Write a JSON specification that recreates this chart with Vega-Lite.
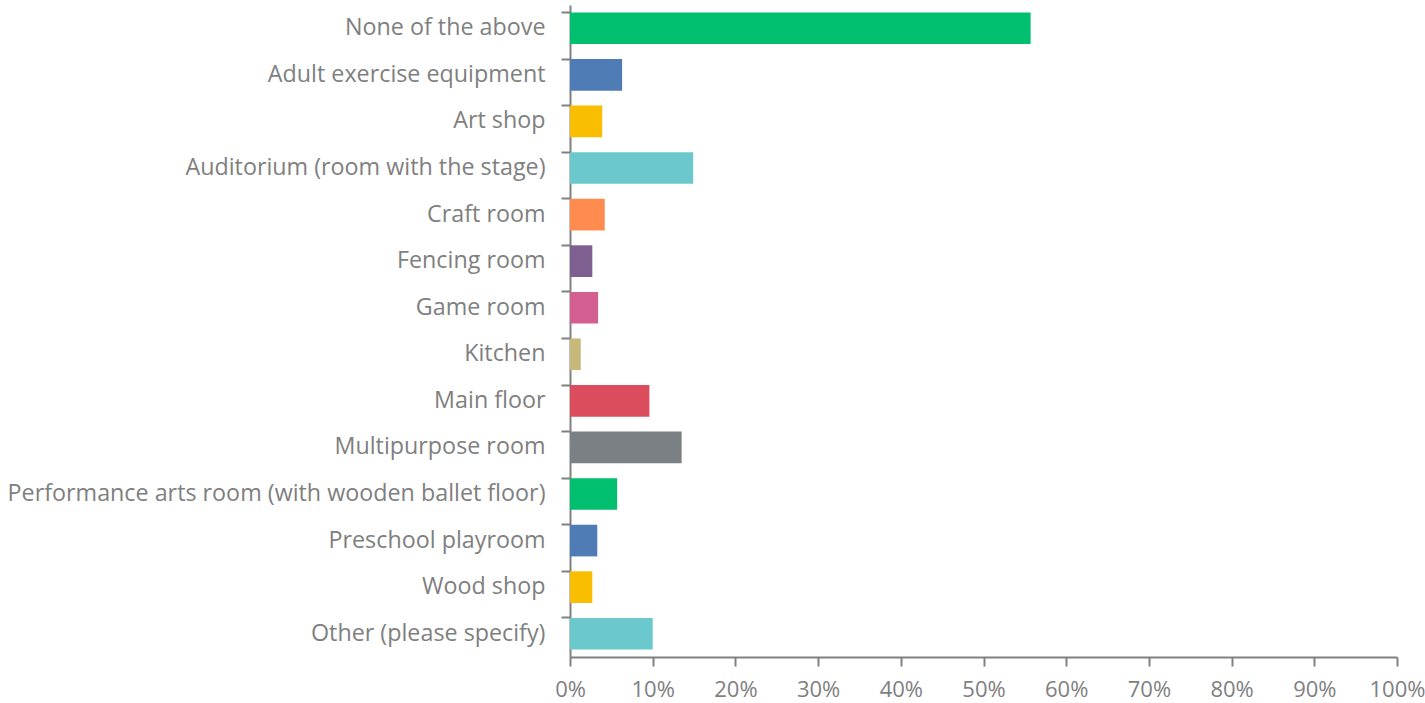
{
  "$schema": "https://vega.github.io/schema/vega-lite/v6.json",
  "autosize": {"type": "none"},
  "padding": {"left": 570, "top": 5, "right": 28, "bottom": 46},
  "width": 827,
  "height": 652,
  "background": "white",
  "config": {"view": {"stroke": null}, "font": "Open Sans"},
  "data": {"values": [
    {"cat": "None of the above", "pct": 0.557},
    {"cat": "Adult exercise equipment", "pct": 0.063},
    {"cat": "Art shop", "pct": 0.039},
    {"cat": "Auditorium (room with the stage)", "pct": 0.149},
    {"cat": "Craft room", "pct": 0.042},
    {"cat": "Fencing room", "pct": 0.027},
    {"cat": "Game room", "pct": 0.034},
    {"cat": "Kitchen", "pct": 0.013},
    {"cat": "Main floor", "pct": 0.096},
    {"cat": "Multipurpose room", "pct": 0.135},
    {"cat": "Performance arts room (with wooden ballet floor)", "pct": 0.057},
    {"cat": "Preschool playroom", "pct": 0.033},
    {"cat": "Wood shop", "pct": 0.027},
    {"cat": "Other (please specify)", "pct": 0.100}
  ]},
  "resolve": {"axis": {"y": "independent"}},
  "layer": [
    {
      "mark": {"type": "bar"},
      "encoding": {
        "y": {"field": "cat", "type": "nominal", "sort": null,
          "scale": {"paddingInner": 0.32, "paddingOuter": 0.16},
          "axis": {"title": null, "orient": "left", "ticks": false, "tickSize": 0, "domain": false,
            "labelPadding": 25, "labelFontSize": 23.3, "labelColor": "#7f7f7f", "labelLimit": 700, "labelFont": "Open Sans"}},
        "x": {"field": "pct", "type": "quantitative",
          "scale": {"domain": [0, 1], "nice": false},
          "axis": {"title": null, "format": "%", "values": [0,0.1,0.2,0.3,0.4,0.5,0.6,0.7,0.8,0.9,1],
            "grid": false, "domainColor": "#808080", "domainWidth": 2, "tickColor": "#808080", "tickWidth": 2,
            "tickSize": 9, "labelPadding": 13, "labelFontSize": 22, "labelColor": "#7f7f7f", "labelFont": "Open Sans", "labelFlush": false}},
        "color": {"field": "cat", "type": "nominal", "legend": null,
          "scale": {"domain": ["None of the above","Adult exercise equipment","Art shop","Auditorium (room with the stage)","Craft room","Fencing room","Game room","Kitchen","Main floor","Multipurpose room","Performance arts room (with wooden ballet floor)","Preschool playroom","Wood shop","Other (please specify)"],
            "range": ["#00BF6F","#507CB6","#F9BE00","#6BC8CD","#FF8B4F","#7F5F90","#D25F90","#C7B879","#DB4D5C","#7A8083","#00BF6F","#507CB6","#F9BE00","#6BC8CD"]}}
      }
    },
    {
      "mark": {"type": "bar", "opacity": 0},
      "encoding": {
        "y": {"field": "cat", "type": "nominal", "sort": null,
          "axis": {"title": null, "orient": "left", "labels": false, "bandPosition": 0, "tickSize": 9, "tickWidth": 2,
            "tickColor": "#808080", "domainColor": "#808080", "domainWidth": 2}},
        "x": {"field": "pct", "type": "quantitative"}
      }
    }
  ]
}
